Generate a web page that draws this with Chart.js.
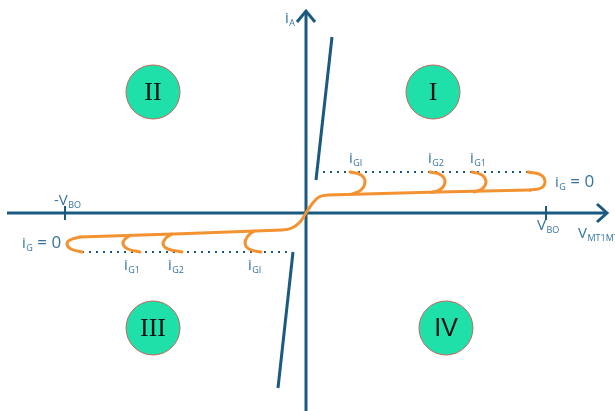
<!DOCTYPE html>
<html>
<head>
<meta charset="utf-8">
<script src="https://cdn.jsdelivr.net/npm/chart.js@4/dist/chart.umd.min.js"></script>
<style>
  html, body { margin: 0; padding: 0; background: #ffffff; }
  canvas { display: block; }
</style>
</head>
<body>
<canvas id="triacChart" width="615" height="411"></canvas>
<script>
// Values are in diagram units, origin at the axis crossing
const axisH = [[-299, 0], [301, 0]];
const axisV = [[0, -198], [0, 202]];
const arrowH = [[291, 9], [301, 0], [291, -9]];
const arrowV = [[-9, 191], [0, 202], [9, 191]];
const tickPos = [[240, 7], [240, -7]];
const tickNeg = [[-241, 7], [-241, -7]];

const steepQ1 = [[10, 33], [26, 176]];
const steepQ3 = [[-13, -39], [-28, -175]];

const mainCurve = [[-226, -24], [-24, -17], [-14, -15], [-6, -9], [0, 0], [6, 9], [13, 16], [22, 18], [224, 23]];

const dottedQ1 = [[17, 41], [224, 41]];
const dottedQ3 = [[-224, -39], [-18, -39]];

const hooksQ1 = [
    [[44, 41], [55, 38], [59, 31], [55, 23], [46, 19]],
    [[124, 41], [135, 38], [139, 31], [135, 24], [126, 20.5]],
    [[166, 41], [176, 38], [180, 31], [176, 24], [168, 21]],
    [[222, 41], [235, 38], [239, 31], [235, 25], [224, 23]]
];
const hooksQ3 = [
    [[-226, -24], [-236, -27], [-239, -31], [-235, -36], [-224, -39]],
    [[-176, -22.5], [-181, -26], [-183, -31], [-178, -36], [-166, -39]],
    [[-134, -21], [-140, -25], [-143, -31], [-138, -36], [-124, -39]],
    [[-52, -18], [-58, -23], [-61, -30], [-57, -36], [-45, -39]]
];

const quadrantCenters = [[127, 121], [-153, 121], [-153, -115], [140, -115]];
const quadrantNames = ['I', 'II', 'III', 'IV'];

// text labels: main text, subscript, trailing text, anchor (left, baseline)
const labelTexts = [
    ['i', 'A', '', -21, 190],
    ['i', 'GI', '', 43, 50],
    ['i', 'G2', '', 122, 50],
    ['i', 'G1', '', 164, 50],
    ['i', 'G', ' = 0', 249, 26],
    ['V', 'BO', '', 231, -17],
    ['V', 'MT1MT2', '', 272, -25],
    ['-V', 'BO', '', -252, 8],
    ['i', 'G', ' = 0', -284, -35],
    ['i', 'G1', '', -182, -57],
    ['i', 'G2', '', -138, -57],
    ['i', 'GI', '', -58, -57]
];

const navy = '#1b5a80';
const orange = '#f39230';
const labelColor = '#3574a0';

function pts(arr) {
    return arr.map(p => ({ x: p[0], y: p[1] }));
}

function lineSet(arr, color, width, extra) {
    return Object.assign({
        data: pts(arr),
        showLine: true,
        borderColor: color,
        borderWidth: width,
        pointRadius: 0,
        fill: false,
        tension: 0
    }, extra || {});
}

const datasets = [];

datasets.push(lineSet(mainCurve, orange, 3, { tension: 0.35, borderCapStyle: 'round' }));
hooksQ1.concat(hooksQ3).forEach(h => {
    datasets.push(lineSet(h, orange, 3, { tension: 0.45, borderCapStyle: 'round' }));
});
datasets.push(lineSet(dottedQ1, navy, 2, { borderDash: [2, 5] }));
datasets.push(lineSet(dottedQ3, navy, 2, { borderDash: [2, 5] }));
datasets.push(lineSet(steepQ1, navy, 3));
datasets.push(lineSet(steepQ3, navy, 3));
datasets.push(lineSet(axisH, navy, 3));
datasets.push(lineSet(axisV, navy, 3));
datasets.push(lineSet(arrowH, navy, 3, { borderJoinStyle: 'miter' }));
datasets.push(lineSet(arrowV, navy, 3, { borderJoinStyle: 'miter' }));
datasets.push(lineSet(tickPos, navy, 2));
datasets.push(lineSet(tickNeg, navy, 2));

// quadrant badges
datasets.push({
    data: pts(quadrantCenters),
    showLine: false,
    pointRadius: 27,
    pointHoverRadius: 27,
    pointBackgroundColor: '#1fe0a9',
    pointBorderColor: '#c2675c',
    pointBorderWidth: 1
});

const textPlugin = {
    id: 'diagramText',
    afterDatasetsDraw(chart) {
        const ctx = chart.ctx;
        const xs = chart.scales.x;
        const ys = chart.scales.y;
        ctx.save();
        ctx.textBaseline = 'alphabetic';
        ctx.textAlign = 'left';

        labelTexts.forEach(l => {
            let px = xs.getPixelForValue(l[3]);
            const py = ys.getPixelForValue(l[4]);
            ctx.fillStyle = labelColor;
            ctx.font = '15px "Open Sans"';
            ctx.fillText(l[0], px, py);
            px += ctx.measureText(l[0]).width + 0.5;
            ctx.font = '9px "Open Sans"';
            ctx.fillText(l[1], px, py + 3);
            px += ctx.measureText(l[1]).width;
            if (l[2]) {
                ctx.font = '17px "Open Sans"';
                ctx.fillText(l[2], px, py);
            }
        });

        ctx.textAlign = 'center';
        ctx.textBaseline = 'middle';
        ctx.fillStyle = '#111111';
        quadrantCenters.forEach((c, i) => {
            const px = xs.getPixelForValue(c[0]);
            const py = ys.getPixelForValue(c[1]);
            ctx.font = i === 3 ? '25px "Liberation Sans"' : '26px "Liberation Serif"';
            ctx.fillText(quadrantNames[i], px, py + 1);
        });
        ctx.restore();
    }
};

new Chart(document.getElementById('triacChart'), {
    type: 'scatter',
    data: { datasets: datasets },
    options: {
        responsive: false,
        animation: false,
        layout: { padding: 0, autoPadding: false },
        scales: {
            x: { type: 'linear', min: -306, max: 309, display: false },
            y: { type: 'linear', min: -198, max: 213, display: false }
        },
        plugins: {
            legend: { display: false },
            tooltip: { enabled: false }
        },
        events: []
    },
    plugins: [textPlugin]
});
</script>
</body>
</html>
